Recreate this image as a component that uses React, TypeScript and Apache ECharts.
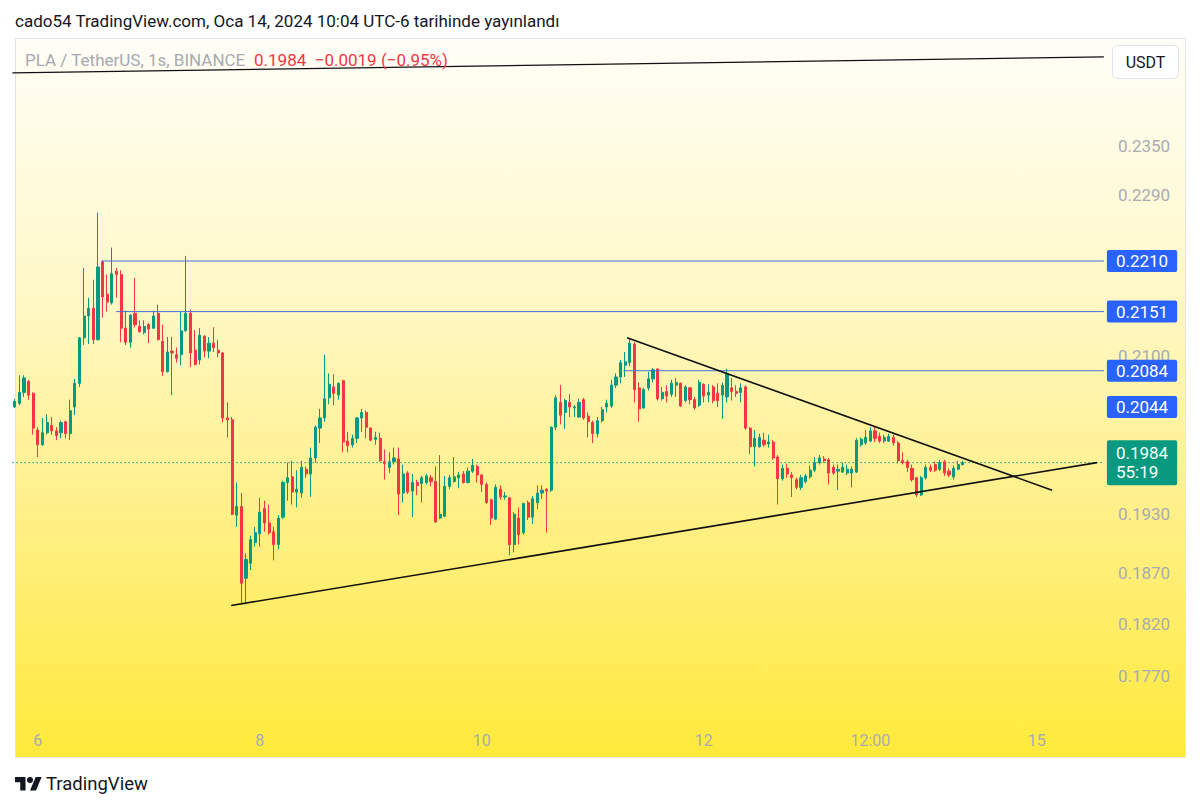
import React, { useEffect, useRef } from "react";
import * as echarts from "echarts";

// ---------- DATA ----------
const START_UTC = Date.UTC(2024, 0, 5, 19); // first hourly candle
const HOUR_COUNT = 236; // hourly slots incl. empty future space
const pad = (n: number) => String(n).padStart(2, "0");
const categories: string[] = [];
for (let i = 0; i < HOUR_COUNT; i++) {
  const d = new Date(START_UTC + i * 3600000);
  categories.push(
    `${d.getUTCFullYear()}-${pad(d.getUTCMonth() + 1)}-${pad(d.getUTCDate())} ${pad(d.getUTCHours())}:00`
  );
}

const X_TICKS: [string, string][] = [
  ["2024-01-06 00:00", "6"],
  ["2024-01-08 00:00", "8"],
  ["2024-01-10 00:00", "10"],
  ["2024-01-12 00:00", "12"],
  ["2024-01-13 12:00", "12:00"],
  ["2024-01-15 00:00", "15"],
];

const Y_TICKS = [0.235, 0.229, 0.21, 0.193, 0.187, 0.182, 0.177];

// [open, close, low, high]
const candles: number[][] = [
  [0.2044, 0.2050, 0.2043, 0.2053], [0.2048, 0.2060, 0.2046, 0.2079], [0.2060, 0.2076, 0.2055, 0.2079],
  [0.2072, 0.2057, 0.2052, 0.2074], [0.2059, 0.2021, 0.2014, 0.2060], [0.2019, 0.2003, 0.1990, 0.2022],
  [0.2003, 0.2016, 0.2002, 0.2032], [0.2016, 0.2027, 0.2014, 0.2036], [0.2024, 0.2018, 0.2014, 0.2033],
  [0.2018, 0.2013, 0.2008, 0.2022], [0.2016, 0.2027, 0.2010, 0.2029], [0.2028, 0.2015, 0.2010, 0.2029],
  [0.2015, 0.2040, 0.2008, 0.2052], [0.2044, 0.2070, 0.2035, 0.2075], [0.2070, 0.2121, 0.2066, 0.2122],
  [0.2121, 0.2146, 0.2113, 0.2202], [0.2146, 0.2155, 0.2114, 0.2167], [0.2155, 0.2119, 0.2114, 0.2188],
  [0.2119, 0.2203, 0.2118, 0.2268], [0.2209, 0.2168, 0.2144, 0.2211], [0.2171, 0.2162, 0.2151, 0.2194],
  [0.2161, 0.2195, 0.2159, 0.2226], [0.2198, 0.2194, 0.2167, 0.2202], [0.2194, 0.2132, 0.2116, 0.2199],
  [0.2132, 0.2116, 0.2113, 0.2152], [0.2116, 0.2147, 0.2110, 0.2148], [0.2149, 0.2136, 0.2133, 0.2190],
  [0.2134, 0.2128, 0.2127, 0.2141], [0.2127, 0.2134, 0.2125, 0.2141], [0.2136, 0.2131, 0.2115, 0.2138],
  [0.2132, 0.2146, 0.2131, 0.2152], [0.2149, 0.2119, 0.2118, 0.2159], [0.2117, 0.2083, 0.2078, 0.2136],
  [0.2083, 0.2105, 0.2082, 0.2122], [0.2106, 0.2104, 0.2057, 0.2122], [0.2102, 0.2098, 0.2093, 0.2110],
  [0.2102, 0.2129, 0.2090, 0.2151], [0.2129, 0.2149, 0.2128, 0.2216], [0.2149, 0.2104, 0.2088, 0.2153],
  [0.2107, 0.2091, 0.2090, 0.2130], [0.2096, 0.2124, 0.2091, 0.2132], [0.2123, 0.2106, 0.2099, 0.2124],
  [0.2106, 0.2115, 0.2098, 0.2122], [0.2115, 0.2110, 0.2105, 0.2133], [0.2107, 0.2104, 0.2099, 0.2119],
  [0.2104, 0.2032, 0.2027, 0.2105], [0.2032, 0.2030, 0.2011, 0.2049], [0.2030, 0.1930, 0.1929, 0.2033],
  [0.1929, 0.1938, 0.1917, 0.1963], [0.1938, 0.1860, 0.1839, 0.1952], [0.1865, 0.1884, 0.1839, 0.1890],
  [0.1880, 0.1904, 0.1873, 0.1908], [0.1901, 0.1911, 0.1897, 0.1917], [0.1910, 0.1932, 0.1897, 0.1947],
  [0.1936, 0.1921, 0.1912, 0.1944], [0.1921, 0.1911, 0.1909, 0.1940], [0.1912, 0.1899, 0.1883, 0.1917],
  [0.1899, 0.1926, 0.1894, 0.1929], [0.1927, 0.1963, 0.1925, 0.1965], [0.1963, 0.1968, 0.1944, 0.1984],
  [0.1969, 0.1953, 0.1940, 0.1986], [0.1953, 0.1956, 0.1937, 0.1976], [0.1952, 0.1979, 0.1947, 0.1986],
  [0.1977, 0.1972, 0.1968, 0.1980], [0.1972, 0.1989, 0.1948, 0.2000], [0.1989, 0.2022, 0.1984, 0.2024],
  [0.2021, 0.2032, 0.2005, 0.2042], [0.2032, 0.2053, 0.2028, 0.2102], [0.2054, 0.2069, 0.2047, 0.2081],
  [0.2066, 0.2059, 0.2046, 0.2080], [0.2057, 0.2070, 0.2052, 0.2071], [0.2073, 0.2006, 0.1995, 0.2074],
  [0.2007, 0.2002, 0.1995, 0.2017], [0.2003, 0.2010, 0.2000, 0.2014], [0.2010, 0.2032, 0.2005, 0.2033],
  [0.2032, 0.2038, 0.2017, 0.2042], [0.2038, 0.2022, 0.2010, 0.2040], [0.2021, 0.2008, 0.2007, 0.2022],
  [0.2009, 0.2011, 0.2003, 0.2017], [0.2010, 0.1986, 0.1985, 0.2016], [0.1985, 0.1983, 0.1966, 0.1998],
  [0.1979, 0.1985, 0.1973, 0.1995], [0.1985, 0.1989, 0.1982, 0.2000], [0.1988, 0.1951, 0.1929, 0.2000],
  [0.1952, 0.1972, 0.1942, 0.1982], [0.1973, 0.1953, 0.1951, 0.1975], [0.1954, 0.1963, 0.1927, 0.1972],
  [0.1963, 0.1960, 0.1950, 0.1966], [0.1962, 0.1968, 0.1942, 0.1970], [0.1963, 0.1970, 0.1961, 0.1972],
  [0.1968, 0.1964, 0.1959, 0.1971], [0.1964, 0.1922, 0.1921, 0.1980], [0.1926, 0.1930, 0.1925, 0.1992],
  [0.1928, 0.1959, 0.1927, 0.1970], [0.1959, 0.1968, 0.1956, 0.1971], [0.1964, 0.1969, 0.1963, 0.1990],
  [0.1968, 0.1971, 0.1957, 0.1974], [0.1972, 0.1963, 0.1962, 0.1975], [0.1963, 0.1975, 0.1962, 0.1979],
  [0.1975, 0.1981, 0.1973, 0.1988], [0.1980, 0.1971, 0.1963, 0.1982], [0.1971, 0.1961, 0.1953, 0.1972],
  [0.1961, 0.1942, 0.1941, 0.1963], [0.1945, 0.1926, 0.1919, 0.1946], [0.1925, 0.1958, 0.1924, 0.1961],
  [0.1956, 0.1948, 0.1945, 0.1960], [0.1948, 0.1949, 0.1945, 0.1953], [0.1947, 0.1899, 0.1888, 0.1948],
  [0.1899, 0.1930, 0.1891, 0.1932], [0.1926, 0.1909, 0.1899, 0.1937], [0.1911, 0.1941, 0.1909, 0.1942],
  [0.1942, 0.1927, 0.1924, 0.1944], [0.1927, 0.1946, 0.1920, 0.1949], [0.1942, 0.1952, 0.1935, 0.1960],
  [0.1952, 0.1955, 0.1946, 0.1960], [0.1956, 0.1954, 0.1911, 0.1957], [0.1955, 0.2022, 0.1953, 0.2023],
  [0.2022, 0.2054, 0.2019, 0.2057], [0.2049, 0.2035, 0.2025, 0.2068], [0.2038, 0.2051, 0.2020, 0.2053],
  [0.2049, 0.2044, 0.2033, 0.2058], [0.2043, 0.2044, 0.2033, 0.2046], [0.2033, 0.2049, 0.2032, 0.2053],
  [0.2052, 0.2032, 0.2030, 0.2054], [0.2034, 0.2028, 0.2011, 0.2038], [0.2027, 0.2015, 0.2005, 0.2029],
  [0.2015, 0.2029, 0.2011, 0.2033], [0.2029, 0.2041, 0.2027, 0.2044], [0.2044, 0.2048, 0.2038, 0.2052],
  [0.2045, 0.2068, 0.2043, 0.2074], [0.2068, 0.2077, 0.2065, 0.2081], [0.2077, 0.2093, 0.2070, 0.2096],
  [0.2090, 0.2094, 0.2077, 0.2105], [0.2093, 0.2115, 0.2089, 0.2121], [0.2114, 0.2063, 0.2049, 0.2116],
  [0.2065, 0.2042, 0.2028, 0.2071], [0.2043, 0.2063, 0.2042, 0.2065], [0.2065, 0.2075, 0.2062, 0.2083],
  [0.2075, 0.2085, 0.2071, 0.2087], [0.2086, 0.2053, 0.2051, 0.2087], [0.2053, 0.2060, 0.2051, 0.2066],
  [0.2061, 0.2056, 0.2049, 0.2068], [0.2058, 0.2070, 0.2055, 0.2074], [0.2068, 0.2071, 0.2055, 0.2076],
  [0.2070, 0.2045, 0.2044, 0.2071], [0.2051, 0.2066, 0.2049, 0.2068], [0.2065, 0.2052, 0.2047, 0.2066],
  [0.2052, 0.2043, 0.2041, 0.2055], [0.2046, 0.2071, 0.2044, 0.2074], [0.2069, 0.2056, 0.2049, 0.2070],
  [0.2057, 0.2060, 0.2049, 0.2069], [0.2066, 0.2051, 0.2048, 0.2068], [0.2059, 0.2051, 0.2044, 0.2070],
  [0.2057, 0.2068, 0.2031, 0.2071], [0.2055, 0.2080, 0.2049, 0.2086], [0.2065, 0.2061, 0.2051, 0.2076],
  [0.2061, 0.2059, 0.2055, 0.2068], [0.2060, 0.2065, 0.2049, 0.2070], [0.2066, 0.2021, 0.2019, 0.2068],
  [0.2021, 0.2001, 0.1993, 0.2022], [0.2001, 0.2010, 0.1980, 0.2019], [0.2001, 0.2011, 0.2000, 0.2015],
  [0.2008, 0.2003, 0.2001, 0.2016], [0.2004, 0.2006, 0.2000, 0.2014], [0.2006, 0.1989, 0.1987, 0.2008],
  [0.1990, 0.1967, 0.1940, 0.1992], [0.1967, 0.1978, 0.1965, 0.1982], [0.1978, 0.1972, 0.1968, 0.1983],
  [0.1971, 0.1968, 0.1948, 0.1974], [0.1966, 0.1958, 0.1956, 0.1968], [0.1958, 0.1968, 0.1955, 0.1971],
  [0.1964, 0.1970, 0.1962, 0.1972], [0.1969, 0.1976, 0.1967, 0.1981], [0.1976, 0.1984, 0.1974, 0.1990],
  [0.1984, 0.1989, 0.1982, 0.1992], [0.1988, 0.1986, 0.1984, 0.1991], [0.1987, 0.1973, 0.1961, 0.1989],
  [0.1979, 0.1973, 0.1971, 0.1982], [0.1975, 0.1977, 0.1955, 0.1982], [0.1974, 0.1979, 0.1973, 0.1984],
  [0.1973, 0.1977, 0.1971, 0.1982], [0.1973, 0.1977, 0.1958, 0.1980], [0.1974, 0.2008, 0.1973, 0.2010],
  [0.2003, 0.2009, 0.2001, 0.2011], [0.2005, 0.2011, 0.2003, 0.2019], [0.2007, 0.2018, 0.2006, 0.2022],
  [0.2018, 0.2010, 0.2006, 0.2023], [0.2012, 0.2007, 0.2005, 0.2016], [0.2007, 0.2011, 0.2005, 0.2014],
  [0.2007, 0.2012, 0.2006, 0.2015], [0.2011, 0.2005, 0.2002, 0.2014], [0.2005, 0.1986, 0.1983, 0.2007],
  [0.1986, 0.1984, 0.1982, 0.1995], [0.1985, 0.1979, 0.1974, 0.1987], [0.1978, 0.1966, 0.1964, 0.1982],
  [0.1968, 0.1950, 0.1948, 0.1969], [0.1950, 0.1968, 0.1949, 0.1970], [0.1968, 0.1979, 0.1966, 0.1982],
  [0.1979, 0.1976, 0.1974, 0.1982], [0.1982, 0.1976, 0.1974, 0.1985], [0.1977, 0.1984, 0.1975, 0.1987],
  [0.1985, 0.1973, 0.1970, 0.1987], [0.1975, 0.1971, 0.1969, 0.1978], [0.1969, 0.1978, 0.1966, 0.1981],
  [0.1977, 0.1982, 0.1976, 0.1986], [0.1982, 0.1984, 0.1981, 0.1986],
];

// trend lines: [hour index, price]
const TOP_LINE = [[-0.5, 0.2444], [235.5, 0.2465]];
const DOWN_LINE = [[132.4, 0.2121], [224.3, 0.1955]];
const UP_LINE = [[46.8, 0.1838], [234.0, 0.1984]];

// horizontal levels: price, starting hour index (null = label only)
const LEVEL_PRICES = [0.221, 0.2151, 0.2084, 0.2044];
const LEVEL_STARTS: (number | null)[] = [18.8, 21.9, 131.6, null];
const LAST_PRICE = 0.1984;
const COUNTDOWN = "55:19";

const TITLE = "cado54 TradingView.com, Oca 14, 2024 10:04 UTC-6 tarihinde yayınlandı";
const SYMBOL_TEXT = "PLA / TetherUS, 1s, BINANCE";
const CHANGE_TEXT = "0.1984  −0.0019 (−0.95%)";

// ---------- STYLE ----------
const GREEN = "#089981";
const RED = "#f23645";
const BLUE = "#2962ff";
const FONT = "Roboto";
const Y_MIN = 0.17214;
const Y_MAX = 0.24901;
const X_MAX = HOUR_COUNT - 0.5;

const TV_LOGO = "M14 22H7V11H0V4h14v18zM28 22h-8l7.5-18h8L28 22zM24 8a4 4 0 1 1-8 0a4 4 0 1 1 8 0z";
echarts.graphic.registerShape("tvlogo", echarts.graphic.extendPath(TV_LOGO, {}) as any);

export default function App() {
  const ref = useRef<HTMLDivElement>(null);
  useEffect(() => {
    if (!ref.current) return;
    const chart = echarts.init(ref.current, undefined, { renderer: "svg" });
    const tickMap = new Map(X_TICKS);

    const levelSeries = LEVEL_PRICES.map((p, i) => {
      const start = LEVEL_STARTS[i];
      return {
        type: "line",
        xAxisIndex: 1,
        yAxisIndex: 0,
        data: [[start === null ? X_MAX - 1 : start, p], [X_MAX, p]],
        symbol: "none",
        silent: true,
        z: 4,
        lineStyle: { color: "#3f72d8", width: 1, opacity: start === null ? 0 : 1 },
        endLabel: {
          show: true,
          formatter: () => p.toFixed(4),
          color: "#ffffff",
          backgroundColor: BLUE,
          padding: [3, 9, 2, 9],
          borderRadius: 2,
          fontSize: 17,
          fontFamily: FONT,
          distance: 3,
        },
      };
    });

    const trend = (data: number[][], width: number) => ({
      type: "line",
      xAxisIndex: 1,
      yAxisIndex: 0,
      data,
      symbol: "none",
      silent: true,
      z: 5,
      lineStyle: { color: "#111111", width },
    });

    const option: any = {
      animation: false,
      backgroundColor: "#ffffff",
      textStyle: { fontFamily: FONT },
      grid: { left: 12.4, right: 96.1, top: 38, bottom: 80, containLabel: false },
      xAxis: [
        {
          type: "category",
          data: categories,
          boundaryGap: true,
          axisLine: { show: false },
          axisTick: { show: false },
          splitLine: { show: false },
          axisLabel: {
            interval: (_i: number, v: string) => tickMap.has(v),
            formatter: (v: string) => tickMap.get(v) || "",
            color: "#a8abb3",
            fontSize: 16,
            fontFamily: FONT,
            margin: 4,
          },
        },
        { type: "value", min: -0.5, max: X_MAX, show: false },
      ],
      yAxis: {
        type: "log",
        logBase: 10,
        min: Y_MIN,
        max: Y_MAX,
        position: "right",
        axisLine: { show: false },
        axisTick: { show: false },
        splitLine: { show: false },
        axisLabel: {
          customValues: Y_TICKS,
          formatter: (v: number) => v.toFixed(4),
          color: "#a8abb3",
          fontSize: 17,
          fontFamily: FONT,
          margin: 14,
          align: "left",
        },
      },
      graphic: [
        {
          type: "rect",
          z: -10,
          silent: true,
          shape: { x: 15.5, y: 38.5, width: 1170, height: 719 },
          style: {
            stroke: "#e4e4e4",
            lineWidth: 1,
            fill: {
              type: "linear", x: 0, y: 0, x2: 0, y2: 1,
              colorStops: [
                { offset: 0, color: "#fffef7" },
                { offset: 0.35, color: "#fff8c8" },
                { offset: 0.65, color: "#fff08a" },
                { offset: 1, color: "#ffea3a" },
              ],
            },
          },
        },
        {
          type: "text", x: 15, y: 21, silent: true,
          style: { text: TITLE, fontSize: 17, fontFamily: FONT, fill: "#131722", verticalAlign: "middle" },
        },
        {
          type: "text", x: 25, y: 60, silent: true, z: 10,
          style: { text: SYMBOL_TEXT, fontSize: 17, fontFamily: FONT, fill: "#a6a9b1", verticalAlign: "middle" },
        },
        {
          type: "text", x: 254, y: 60, silent: true, z: 10,
          style: { text: CHANGE_TEXT, fontSize: 17, fontFamily: FONT, fill: RED, verticalAlign: "middle" },
        },
        {
          type: "rect", z: 10, silent: true,
          shape: { x: 1112.5, y: 45.5, width: 66, height: 33, r: 5 },
          style: { fill: "#ffffff", stroke: "#e0e3eb", lineWidth: 1 },
        },
        {
          type: "text", x: 1145.5, y: 62, z: 11, silent: true,
          style: { text: "USDT", fontSize: 16, fontFamily: FONT, fill: "#131722", align: "center", verticalAlign: "middle" },
        },
        {
          type: "tvlogo", x: 15, y: 774, scaleX: 0.75, scaleY: 0.75, silent: true,
          style: { fill: "#131722" },
        },
        {
          type: "text", x: 46, y: 784, silent: true,
          style: { text: "TradingView", fontSize: 18.5, fontFamily: FONT, fill: "#131722", verticalAlign: "middle" },
        },
      ],
      series: [
        {
          type: "candlestick",
          xAxisIndex: 0,
          yAxisIndex: 0,
          data: candles,
          barWidth: 2.6,
          z: 3,
          itemStyle: { color: GREEN, color0: RED, borderColor: GREEN, borderColor0: RED, borderWidth: 1 },
        },
        {
          type: "line",
          xAxisIndex: 1,
          yAxisIndex: 0,
          data: [[-0.5, LAST_PRICE], [X_MAX, LAST_PRICE]],
          symbol: "none",
          silent: true,
          z: 2,
          lineStyle: { color: GREEN, width: 1, type: [1.5, 2.5] },
          endLabel: {
            show: true,
            formatter: () => `${LAST_PRICE.toFixed(4)}\n${COUNTDOWN}`,
            color: "#ffffff",
            backgroundColor: GREEN,
            padding: [4, 9, 3, 9],
            lineHeight: 19,
            borderRadius: 2,
            fontSize: 17,
            fontFamily: FONT,
            distance: 3,
          },
        },
        ...levelSeries,
        trend(TOP_LINE, 1.3),
        trend(DOWN_LINE, 1.6),
        trend(UP_LINE, 1.6),
      ],
    };
    chart.setOption(option);
    return () => chart.dispose();
  }, []);

  return (
    <div
      ref={ref}
      style={{ position: "fixed", left: 0, top: 0, width: 1200, height: 808, background: "#ffffff" }}
    />
  );
}
